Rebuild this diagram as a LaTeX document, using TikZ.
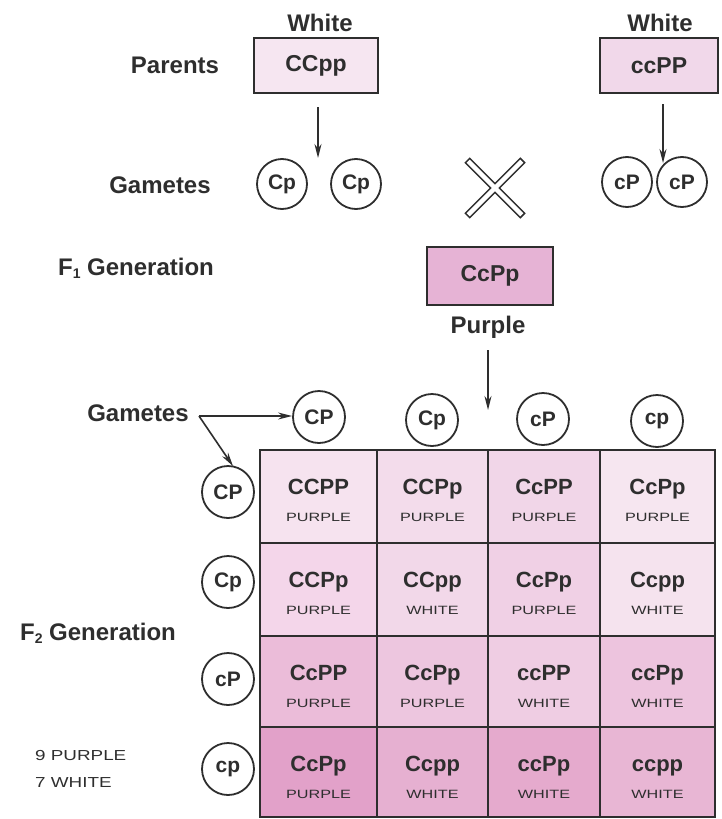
\documentclass[tikz,border=0pt]{standalone}
\usepackage{fontspec}
\setmainfont{Liberation Sans}
\usepackage{graphicx}
\usetikzlibrary{arrows.meta}
\definecolor{ink}{HTML}{2E2E2E}
\definecolor{pA}{HTML}{F6E6F1}
\definecolor{pB}{HTML}{F1D8EA}
\definecolor{pF}{HTML}{E6B3D5}
\definecolor{r1a}{HTML}{F6E3EF}\definecolor{r1b}{HTML}{F3DCEB}\definecolor{r1c}{HTML}{F1D6E8}\definecolor{r1d}{HTML}{F6E6F0}
\definecolor{r2a}{HTML}{F4D6EA}\definecolor{r2b}{HTML}{F2D8E9}\definecolor{r2c}{HTML}{F0D0E5}\definecolor{r2d}{HTML}{F5E3EE}
\definecolor{r3a}{HTML}{EBBCD9}\definecolor{r3b}{HTML}{EDC6DF}\definecolor{r3c}{HTML}{EFCDE3}\definecolor{r3d}{HTML}{EDC4DE}
\definecolor{r4a}{HTML}{E2A1C9}\definecolor{r4b}{HTML}{E6B0D1}\definecolor{r4c}{HTML}{E5AACD}\definecolor{r4d}{HTML}{E8B6D4}
\newcommand\pcell[8]{%
  \node[cellbox, fill=#6, minimum width={#4-#2}, minimum height={#5-#3}] (#1) at ({(#2+#4)/2},{(#3+#5)/2}) {};
  \node[geno] (#1g) at ([yshift=-44pt]#1.north) {#7};
  \node[pheno] (#1p) at ([yshift=-71pt]#1.north) {\scalebox{1.35}[1]{#8}};
}
\begin{document}
\begin{tikzpicture}[x=1pt,y=-1pt,
  lbl/.style={font=\fontsize{24}{28}\selectfont\bfseries, text=ink, inner sep=0},
  small/.style={font=\fontsize{14.5}{17}\selectfont, text=ink, inner sep=0, anchor=west},
  pbox/.style={draw=ink, line width=2.2, rectangle, inner sep=0, font=\fontsize{23}{28}\selectfont\bfseries, text=ink},
  gam/.style={circle, draw=ink, line width=1.8, inner sep=0, minimum size=52, font=\fontsize{21}{24}\selectfont\bfseries, text=ink},
  arr/.style={draw=ink, line width=1.6, -{Stealth[length=14pt,width=7pt]}},
  geno/.style={font=\fontsize{22}{26}\selectfont\bfseries, text=ink, inner sep=0, anchor=base},
  pheno/.style={font=\fontsize{12}{14}\selectfont, text=ink, inner sep=0, anchor=base},
  cellbox/.style={draw=ink, line width=2.2, inner sep=0, outer sep=0}
]
\useasboundingbox (0,0) rectangle (721,819);

% ---- Parents ----
\node[lbl] (white1) at (320,23) {White};
\node[lbl] (white2) at (660,23) {White};
\node[lbl] (parents) at (175,65) {Parents};
\node[pbox, fill=pA, minimum width=124, minimum height=55] (p1) at (316,65.5) {CCpp};
\node[pbox, fill=pB, minimum width=118, minimum height=55] (p2) at (659,65.5) {ccPP};

% ---- Gametes of parents ----
\node[lbl] (gam1) at (160,185) {Gametes};
\node[gam, minimum size=50] (g1) at (282,184) {Cp};
\node[gam, minimum size=50] (g2) at (356,184) {Cp};
\node[gam, minimum size=50] (g3) at (627,182) {cP};
\node[gam, minimum size=50] (g4) at (682,182) {cP};
\coordinate (a1s) at (318,107);
\coordinate (a1e) at (318,158);
\coordinate (a2s) at (663,104);
\coordinate (a2e) at (663,163);
\draw[arr] (a1s) -- (a1e);
\draw[arr] (a2s) -- (a2e);

% ---- cross symbol ----
\coordinate (xa) at (467,160); \coordinate (xb) at (523,216);
\coordinate (xc) at (523,160); \coordinate (xd) at (467,216);
\draw[ink, line width=7.5] (xa) -- (xb);
\draw[ink, line width=7.5] (xc) -- (xd);
\draw[white, line width=4.4, shorten <=1.6pt, shorten >=1.6pt] (xa) -- (xb);
\draw[white, line width=4.4, shorten <=1.6pt, shorten >=1.6pt] (xc) -- (xd);

% ---- F1 ----
\node[lbl] (f1) at (136,268) {F\raisebox{-3pt}{\fontsize{14}{14}\selectfont 1} Generation};
\node[pbox, fill=pF, minimum width=126, minimum height=58] (f1box) at (490,276) {CcPp};
\node[lbl] (purple) at (488,327) {Purple};
\coordinate (a3s) at (488,350);
\coordinate (a3e) at (488,410);
\draw[arr] (a3s) -- (a3e);

% ---- F1 gametes ----
\node[lbl] (gam2) at (138,413) {Gametes};
\node[gam] (tCP) at (319,417) {CP};
\node[gam] (tCp) at (432,420) {Cp};
\node[gam] (tcP) at (543,419) {cP};
\node[gam] (tcp) at (657,421) {cp};
\node[gam] (rCP) at (228,492) {CP};
\node[gam] (rCp) at (228,582) {Cp};
\node[gam] (rcP) at (228,679) {cP};
\node[gam] (rcp) at (228,769) {cp};
\coordinate (gs) at (199,416);
\draw[arr] (gs) -- (gs -| tCP.west);
\draw[arr] (gs) -- ([xshift=5pt,yshift=-1pt]rCP.north);

% ---- F2 labels ----
\node[lbl] (f2) at (98,633) {F\raisebox{-3pt}{\fontsize{14}{14}\selectfont 2} Generation};
\node[small] (ratio1) at (35,755) {\scalebox{1.3}[1]{9 PURPLE}};
\node[small] (ratio2) at (35,783) {\scalebox{1.3}[1]{7 WHITE}};

% ---- Punnett square ----
\pcell{c11}{260}{450}{377}{543}{r1a}{CCPP}{PURPLE}
\pcell{c12}{377}{450}{488}{543}{r1b}{CCPp}{PURPLE}
\pcell{c13}{488}{450}{600}{543}{r1c}{CcPP}{PURPLE}
\pcell{c14}{600}{450}{715}{543}{r1d}{CcPp}{PURPLE}
\pcell{c21}{260}{543}{377}{636}{r2a}{CCPp}{PURPLE}
\pcell{c22}{377}{543}{488}{636}{r2b}{CCpp}{WHITE}
\pcell{c23}{488}{543}{600}{636}{r2c}{CcPp}{PURPLE}
\pcell{c24}{600}{543}{715}{636}{r2d}{Ccpp}{WHITE}
\pcell{c31}{260}{636}{377}{727}{r3a}{CcPP}{PURPLE}
\pcell{c32}{377}{636}{488}{727}{r3b}{CcPp}{PURPLE}
\pcell{c33}{488}{636}{600}{727}{r3c}{ccPP}{WHITE}
\pcell{c34}{600}{636}{715}{727}{r3d}{ccPp}{WHITE}
\pcell{c41}{260}{727}{377}{817}{r4a}{CcPp}{PURPLE}
\pcell{c42}{377}{727}{488}{817}{r4b}{Ccpp}{WHITE}
\pcell{c43}{488}{727}{600}{817}{r4c}{ccPp}{WHITE}
\pcell{c44}{600}{727}{715}{817}{r4d}{ccpp}{WHITE}
\end{tikzpicture}
\end{document}
